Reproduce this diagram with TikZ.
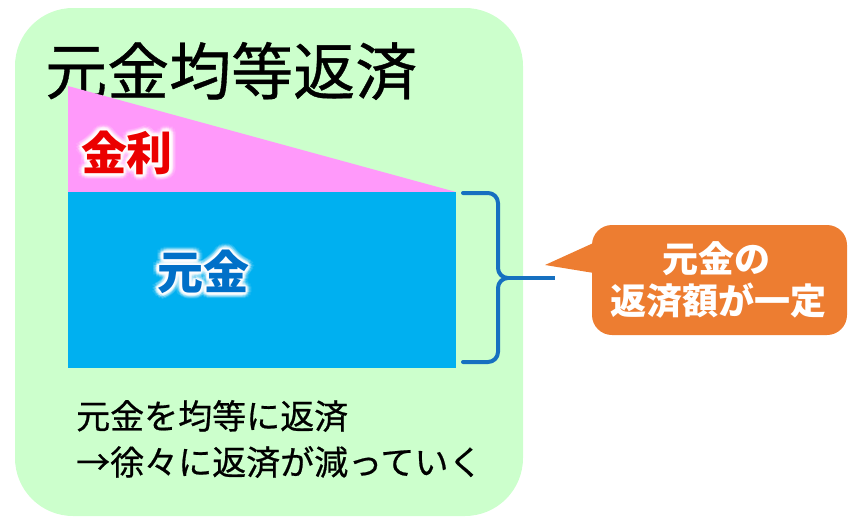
\documentclass[tikz,border=0pt]{standalone}
\usepackage{fontspec}
\setmainfont{Noto Sans CJK JP}
\newfontfamily\titlefont[FakeBold=0.6]{Noto Sans CJK JP}
\usetikzlibrary{calc}
\definecolor{bggreen}{RGB}{204,255,204}
\definecolor{rosa}{RGB}{255,153,250}
\definecolor{skyblue}{RGB}{0,176,240}
\definecolor{deepblue}{RGB}{22,112,192}
\definecolor{labelblue}{RGB}{0,112,200}
\definecolor{labelred}{RGB}{235,0,0}
\definecolor{calloutorange}{RGB}{237,125,49}
\tikzset{
  glowlabel/.style={inner sep=0pt, font=\fontsize{46}{50}\selectfont\bfseries},
  bodytext/.style={inner sep=0pt, anchor=west, font=\fontsize{34}{40}\selectfont\titlefont},
  callouttext/.style={inner sep=0pt, text=white, font=\fontsize{36}{42}\selectfont\bfseries},
  bracestyle/.style={draw=deepblue, line width=4pt, line cap=round, line join=round},
}
\newcommand\myglow[4]{% name, position, colour, text
  \foreach \rr/\oo in {6/0.12,4.5/0.18,3/0.35,1.5/0.6}{
    \foreach \aa in {0,30,...,330}{
      \node[glowlabel, text=white, opacity=\oo] at ($#2+(\aa:\rr)$) {#4};
    }
  }
  \node[glowlabel, text=#3] (#1) at #2 {#4};
}
\begin{document}
\begin{tikzpicture}[x=1pt,y=-1pt]
\useasboundingbox (0,0) rectangle (855,522);
% background panel
\node[fill=bggreen, rounded corners=58pt, minimum width=508pt, minimum height=508pt, inner sep=0pt] (panel) at (269,262) {};
% title
\node[inner sep=0pt, anchor=west, font=\fontsize{62}{66}\selectfont\titlefont] (title) at (45,71) {元金均等返済};
% interest triangle and principal block
\fill[rosa] (68,86) -- (456,192) -- (68,192) -- cycle;
\node[fill=skyblue, inner sep=0pt, minimum width=388pt, minimum height=176pt, anchor=north west] (block) at (68,192) {};
\myglow{interest}{(127,153)}{labelred}{金利}
\myglow{principal}{(203,272)}{labelblue}{元金}
% brace
\draw[bracestyle] (463,193) -- (488,193) to[out=0,in=90] (498,203) -- (498,268) to[out=-90,in=180] (508,278);
\draw[bracestyle] (508,278) to[out=180,in=90] (498,288) -- (498,352) to[out=-90,in=0] (488,362) -- (463,362);
\coordinate (bracetip) at (508,278);
\coordinate (braceend) at (555,278);
\draw[bracestyle, line cap=butt] (bracetip) -- (braceend);
% callout
\node[fill=calloutorange, rounded corners=20pt, minimum width=255pt, minimum height=110pt, inner sep=0pt] (callout) at (719.5,280) {};
\coordinate (pointer) at (545,265);
\fill[calloutorange] (pointer) -- (600,240) -- (600,274) -- cycle;
\node[callouttext] (c1) at (716,259) {元金の};
\node[callouttext] (c2) at (718,301) {返済額が一定};
% bottom text
\node[bodytext] (note1) at (76,416) {元金を均等に返済};
\node[bodytext] (note2) at (76,462) {→徐々に返済が減っていく};
\end{tikzpicture}
\end{document}
